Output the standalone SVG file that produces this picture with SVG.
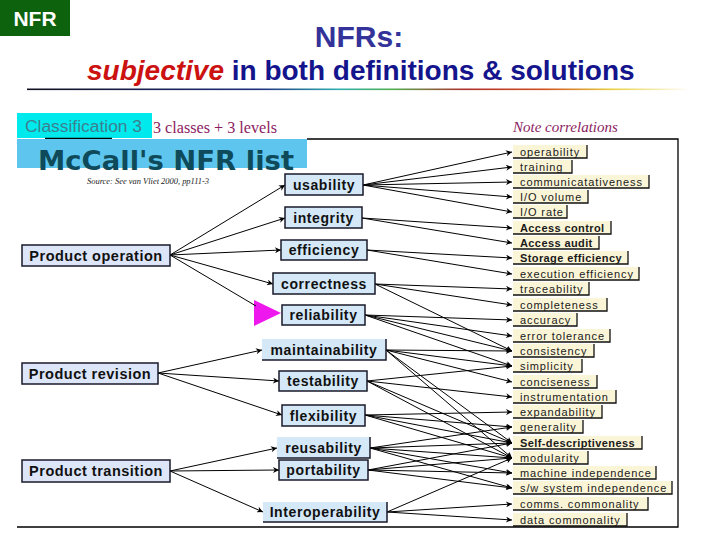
<svg xmlns="http://www.w3.org/2000/svg" width="720" height="540" viewBox="0 0 720 540">
<defs>
<linearGradient id="rule" x1="0" y1="0" x2="1" y2="0">
<stop offset="0" stop-color="#101020"/>
<stop offset="0.35" stop-color="#203080"/>
<stop offset="0.47" stop-color="#30b0b0"/>
<stop offset="0.55" stop-color="#50b050"/>
<stop offset="0.66" stop-color="#b03030"/>
<stop offset="0.78" stop-color="#d05020"/>
<stop offset="0.88" stop-color="#e8d040"/>
<stop offset="1" stop-color="#ffffff"/>
</linearGradient>
<marker id="ah" viewBox="0 0 10 10" refX="10" refY="5" markerWidth="9" markerHeight="6" markerUnits="userSpaceOnUse" orient="auto">
<path d="M0,0 L10,5 L0,10 L3,5 z" fill="#000"/>
</marker>
<style>
.l1 rect{fill:#dde6f8;stroke:#1a1a2a;stroke-width:1.5}
.l2 rect{fill:#d4e8f8;stroke:#1a1a2a;stroke-width:1.5}
.l1 text{font-family:"Liberation Sans",Arial,sans-serif;font-size:14.5px;font-weight:bold;letter-spacing:0.5px;fill:#111;text-anchor:middle}
.l2 text{font-family:"Liberation Sans",Arial,sans-serif;font-size:14px;font-weight:bold;letter-spacing:0.6px;fill:#111;text-anchor:middle}
.l3 rect{fill:#fbf5d8;stroke:none}
.l3 path{fill:none;stroke:#111;stroke-width:1.3}
.l3 text{font-family:"Liberation Sans",Arial,sans-serif;font-size:11px;letter-spacing:0.9px;fill:#1a1a1a}
.l3 text.b{font-weight:bold;letter-spacing:0.4px}
.conn line{stroke:#000;stroke-width:1;marker-end:url(#ah)}
</style>
</defs>
<rect x="0" y="0" width="720" height="540" fill="#fff"/>

<g id="nfr-badge">
<rect x="0" y="0" width="70" height="36" fill="#0d630d"/>
<text x="35" y="26" font-family="Liberation Sans, Arial, sans-serif" font-size="21" font-weight="bold" fill="#fff" text-anchor="middle">NFR</text>
</g>
<g id="title">
<text x="359" y="47" font-family="Liberation Sans, Arial, sans-serif" font-size="30" font-weight="bold" fill="#333399" text-anchor="middle">NFRs:</text>
<text x="87" y="80" font-family="Liberation Sans, Arial, sans-serif" font-size="28" font-weight="bold" fill="#14148c"><tspan fill="#cc1111" font-style="italic">subjective</tspan> in both definitions &amp; solutions</text>
<rect x="27" y="88.5" width="663" height="1.6" fill="url(#rule)"/>
</g>

<g id="classification">
<rect x="17" y="113" width="135" height="25" fill="#00eaee"/>
<text x="25" y="132" font-family="Liberation Sans, Arial, sans-serif" font-size="16" fill="#3d7f8f" textLength="117" lengthAdjust="spacingAndGlyphs">Classification 3</text>
<text x="153" y="133" font-family="Liberation Serif, Times New Roman, serif" font-size="16" fill="#8b1c62" textLength="124" lengthAdjust="spacingAndGlyphs">3 classes + 3 levels</text>
<text x="513" y="132" font-family="Liberation Serif, Times New Roman, serif" font-size="15" font-style="italic" fill="#8b1c62">Note correlations</text>
</g>

<g id="frame" fill="none" stroke="#000" stroke-width="1.3">
<path d="M307,139 H678 V527 H17"/>
<path d="M45,138.5 H112"/>
</g>

<g id="banner">
<rect x="17" y="139" width="290" height="29" fill="#5ec6ee"/>
<text x="38" y="170" font-family="DejaVu Sans, Verdana, sans-serif" font-size="27" font-weight="bold" fill="#0e4a5a" textLength="256" lengthAdjust="spacingAndGlyphs">McCall's NFR list</text>
<text x="87" y="184" font-family="Liberation Serif, Times New Roman, serif" font-size="8" font-style="italic" fill="#222" textLength="122" lengthAdjust="spacingAndGlyphs">Source: See van Vliet 2000, pp111-3</text>
</g>

<g id="pointer">
<polygon points="254,300 254,326 281,313" fill="#ee18ee"/>
</g>

<g id="connectors" class="conn">
<line x1="170" y1="255" x2="285" y2="185"/>
<line x1="170" y1="255" x2="285" y2="218"/>
<line x1="170" y1="255" x2="281" y2="250"/>
<line x1="170" y1="255" x2="273" y2="284"/>
<line x1="170" y1="255" x2="256" y2="306" style="marker-end:none"/>
<line x1="158" y1="373" x2="262" y2="350"/>
<line x1="158" y1="373" x2="279" y2="381"/>
<line x1="158" y1="373" x2="282" y2="415"/>
<line x1="170" y1="471" x2="277" y2="448"/>
<line x1="170" y1="471" x2="279" y2="470"/>
<line x1="170" y1="471" x2="263" y2="512"/>

<line x1="363" y1="185" x2="512" y2="152"/>
<line x1="363" y1="185" x2="512" y2="167"/>
<line x1="363" y1="185" x2="512" y2="182"/>
<line x1="363" y1="185" x2="512" y2="197"/>
<line x1="363" y1="185" x2="512" y2="212"/>
<line x1="362" y1="218" x2="512" y2="228"/>
<line x1="362" y1="218" x2="512" y2="243"/>
<line x1="367" y1="250" x2="512" y2="258"/>
<line x1="367" y1="250" x2="512" y2="274"/>
<line x1="375" y1="284" x2="512" y2="289"/>
<line x1="375" y1="284" x2="512" y2="305"/>
<line x1="375" y1="284" x2="512" y2="351"/>
<line x1="365" y1="315" x2="512" y2="320"/>
<line x1="365" y1="315" x2="512" y2="336"/>
<line x1="365" y1="315" x2="512" y2="351"/>
<line x1="365" y1="315" x2="512" y2="366"/>
<line x1="386" y1="350" x2="512" y2="351"/>
<line x1="386" y1="350" x2="512" y2="366"/>
<line x1="386" y1="350" x2="512" y2="382"/>
<line x1="386" y1="350" x2="512" y2="443"/>
<line x1="386" y1="350" x2="512" y2="458"/>
<line x1="367" y1="381" x2="512" y2="366"/>
<line x1="367" y1="381" x2="512" y2="397"/>
<line x1="367" y1="381" x2="512" y2="443"/>
<line x1="367" y1="381" x2="512" y2="458"/>
<line x1="365" y1="415" x2="512" y2="412"/>
<line x1="365" y1="415" x2="512" y2="427"/>
<line x1="365" y1="415" x2="512" y2="443"/>
<line x1="365" y1="415" x2="512" y2="458"/>
<line x1="370" y1="448" x2="512" y2="427"/>
<line x1="370" y1="448" x2="512" y2="443"/>
<line x1="370" y1="448" x2="512" y2="458"/>
<line x1="370" y1="448" x2="512" y2="473"/>
<line x1="370" y1="448" x2="512" y2="488"/>
<line x1="368" y1="470" x2="512" y2="443"/>
<line x1="368" y1="470" x2="512" y2="458"/>
<line x1="368" y1="470" x2="512" y2="473"/>
<line x1="368" y1="470" x2="512" y2="488"/>
<line x1="387" y1="512" x2="512" y2="458"/>
<line x1="387" y1="512" x2="512" y2="504"/>
<line x1="387" y1="512" x2="512" y2="520"/>
</g>

<g id="product-operation" class="l1"><rect x="22" y="245" width="148" height="21"/><text x="96" y="261">Product operation</text></g>
<g id="product-revision" class="l1"><rect x="22" y="363" width="136" height="21"/><text x="90" y="379">Product revision</text></g>
<g id="product-transition" class="l1"><rect x="22" y="460" width="148" height="22"/><text x="96" y="476">Product transition</text></g>

<g id="usability" class="l2"><rect x="285" y="174" width="78" height="21"/><text x="324" y="190">usability</text></g>
<g id="integrity" class="l2"><rect x="285" y="207" width="77" height="21"/><text x="323.5" y="223">integrity</text></g>
<g id="efficiency" class="l2"><rect x="281" y="240" width="86" height="20"/><text x="324" y="255">efficiency</text></g>
<g id="correctness" class="l2"><rect x="273" y="273" width="102" height="21"/><text x="324" y="289">correctness</text></g>
<g id="reliability" class="l2"><rect x="282" y="305" width="83" height="20"/><text x="323.5" y="320">reliability</text></g>
<g id="maintainability" class="l2"><rect x="262" y="339" width="124" height="21" style="stroke:none"/><path d="M262,360 H386 V339" fill="none" stroke="#1a1a2a" stroke-width="1.5"/><text x="324" y="355">maintainability</text></g>
<g id="testability" class="l2"><rect x="279" y="371" width="88" height="20"/><text x="323" y="386">testability</text></g>
<g id="flexibility" class="l2"><rect x="282" y="405" width="83" height="21"/><text x="323.5" y="421">flexibility</text></g>
<g id="reusability" class="l2"><rect x="277" y="437" width="93" height="21" style="stroke:none"/><path d="M277,458 H370 V437" fill="none" stroke="#1a1a2a" stroke-width="1.5"/><text x="323.5" y="453">reusability</text></g>
<g id="portability" class="l2"><rect x="279" y="460" width="89" height="20"/><text x="323.5" y="475">portability</text></g>
<g id="interoperability" class="l2"><rect x="263" y="502" width="124" height="20" style="stroke:none"/><path d="M263,522 H387 V502" fill="none" stroke="#1a1a2a" stroke-width="1.5"/><text x="325" y="517">Interoperability</text></g>

<g id="operability" class="l3"><rect x="513" y="145" width="74" height="13"/><path d="M513,158 H587 V145"/><text x="520" y="156">operability</text></g>
<g id="training" class="l3"><rect x="513" y="160" width="59" height="13"/><path d="M513,173 H572 V160"/><text x="520" y="171">training</text></g>
<g id="communicatativeness" class="l3"><rect x="513" y="175" width="136" height="13"/><path d="M513,188 H649 V175"/><text x="520" y="186">communicatativeness</text></g>
<g id="io-volume" class="l3"><rect x="513" y="190" width="75" height="13"/><path d="M513,203 H588 V190"/><text x="520" y="201">I/O volume</text></g>
<g id="io-rate" class="l3"><rect x="513" y="205" width="54" height="13"/><path d="M513,218 H567 V205"/><text x="520" y="216">I/O rate</text></g>
<g id="access-control" class="l3"><rect x="513" y="221" width="98" height="13"/><path d="M513,234 H611 V221"/><text class="b" x="520" y="232">Access control</text></g>
<g id="access-audit" class="l3"><rect x="513" y="236" width="86" height="13"/><path d="M513,249 H599 V236"/><text class="b" x="520" y="247">Access audit</text></g>
<g id="storage-efficiency" class="l3"><rect x="513" y="251" width="115" height="13"/><path d="M513,264 H628 V251"/><text class="b" x="520" y="262">Storage efficiency</text></g>
<g id="execution-efficiency" class="l3"><rect x="513" y="267" width="126" height="13"/><path d="M513,280 H639 V267"/><text x="520" y="278">execution efficiency</text></g>
<g id="traceability" class="l3"><rect x="513" y="282" width="76" height="13"/><path d="M513,295 H589 V282"/><text x="520" y="293">traceability</text></g>
<g id="completeness" class="l3"><rect x="513" y="298" width="94" height="13"/><path d="M513,311 H607 V298"/><text x="520" y="309">completeness</text></g>
<g id="accuracy" class="l3"><rect x="513" y="313" width="64" height="13"/><path d="M513,326 H577 V313"/><text x="520" y="324">accuracy</text></g>
<g id="error-tolerance" class="l3"><rect x="513" y="329" width="97" height="13"/><path d="M513,342 H610 V329"/><text x="520" y="340">error tolerance</text></g>
<g id="consistency" class="l3"><rect x="513" y="344" width="81" height="13"/><path d="M513,357 H594 V344"/><text x="520" y="355">consistency</text></g>
<g id="simplicity" class="l3"><rect x="513" y="359" width="69" height="13"/><path d="M513,372 H582 V359"/><text x="520" y="370">simplicity</text></g>
<g id="conciseness" class="l3"><rect x="513" y="375" width="84" height="13"/><path d="M513,388 H597 V375"/><text x="520" y="386">conciseness</text></g>
<g id="instrumentation" class="l3"><rect x="513" y="390" width="103" height="13"/><path d="M513,403 H616 V390"/><text x="520" y="401">instrumentation</text></g>
<g id="expandability" class="l3"><rect x="513" y="405" width="89" height="13"/><path d="M513,418 H602 V405"/><text x="520" y="416">expandability</text></g>
<g id="generality" class="l3"><rect x="513" y="420" width="70" height="13"/><path d="M513,433 H583 V420"/><text x="520" y="431">generality</text></g>
<g id="self-descriptiveness" class="l3"><rect x="513" y="436" width="129" height="13"/><path d="M513,449 H642 V436"/><text class="b" x="520" y="447">Self-descriptiveness</text></g>
<g id="modularity" class="l3"><rect x="513" y="451" width="75" height="13"/><path d="M513,464 H588 V451"/><text x="520" y="462">modularity</text></g>
<g id="machine-independence" class="l3"><rect x="513" y="466" width="143" height="13"/><path d="M513,479 H656 V466"/><text x="520" y="477">machine independence</text></g>
<g id="sw-system-independence" class="l3"><rect x="513" y="481" width="159" height="13"/><path d="M513,494 H672 V481"/><text x="520" y="492">s/w system independence</text></g>
<g id="comms-commonality" class="l3"><rect x="513" y="497" width="135" height="13"/><path d="M513,510 H648 V497"/><text x="520" y="508">comms. commonality</text></g>
<g id="data-commonality" class="l3"><rect x="513" y="513" width="114" height="13"/><path d="M513,526 H627 V513"/><text x="520" y="524">data commonality</text></g>
</svg>
